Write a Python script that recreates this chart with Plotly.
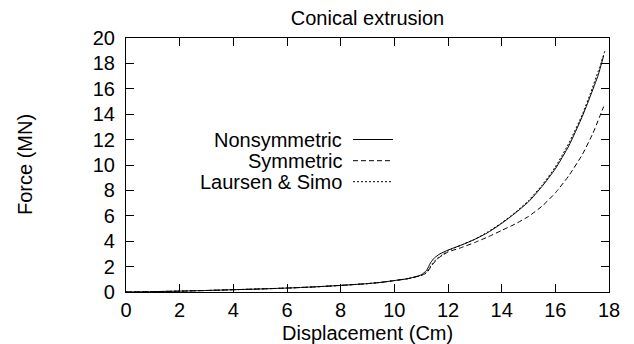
import plotly.graph_objects as go

# Data
x_non = [0, 1, 2, 3, 4, 5, 6, 7, 8, 9, 9.5, 10, 10.5, 11, 11.2, 11.35, 11.5, 11.7, 12, 12.5, 13, 13.5, 14, 14.5, 15, 15.5, 16, 16.5, 17, 17.3, 17.6, 17.8]
y_non = [0, 0.03, 0.07, 0.12, 0.18, 0.24, 0.31, 0.4, 0.52, 0.66, 0.76, 0.9, 1.05, 1.35, 1.7, 2.3, 2.7, 3.0, 3.3, 3.7, 4.15, 4.7, 5.4, 6.2, 7.1, 8.3, 9.7, 11.5, 13.8, 15.4, 17.1, 18.6]

x_sym = [0, 1, 2, 3, 4, 5, 6, 7, 8, 9, 9.5, 10, 10.5, 11, 11.2, 11.4, 11.6, 11.8, 12, 12.5, 13, 13.5, 14, 14.5, 15, 15.5, 16, 16.5, 17, 17.4, 17.8]
y_sym = [0, 0.03, 0.07, 0.12, 0.18, 0.24, 0.31, 0.4, 0.52, 0.66, 0.76, 0.9, 1.05, 1.3, 1.5, 2.1, 2.6, 2.9, 3.15, 3.5, 3.9, 4.35, 4.85, 5.35, 5.95, 6.75, 7.8, 9.15, 10.8, 12.5, 14.6]

x_ls = [0, 1, 2, 3, 4, 5, 6, 7, 8, 9, 9.5, 10, 10.5, 11, 11.2, 11.4, 11.6, 11.8, 12, 12.5, 13, 13.5, 14, 14.5, 15, 15.5, 16, 16.5, 17, 17.3, 17.6, 17.85]
y_ls = [0, 0.03, 0.07, 0.12, 0.18, 0.24, 0.31, 0.4, 0.52, 0.66, 0.76, 0.9, 1.05, 1.3, 1.55, 2.2, 2.65, 2.95, 3.25, 3.7, 4.15, 4.75, 5.45, 6.25, 7.2, 8.4, 9.85, 11.7, 13.95, 15.6, 17.4, 19.0]

series_names = ["Nonsymmetric", "Symmetric", "Laursen & Simo"]
series_dash = ["solid", "5px,3px", "2px,2px"]

x_ticks = [0, 2, 4, 6, 8, 10, 12, 14, 16, 18]
y_ticks = [0, 2, 4, 6, 8, 10, 12, 14, 16, 18, 20]

FONT = "Liberation Sans, Arial, Helvetica, sans-serif"
FS = 20

# page is rendered with an 8px body margin
OFF = 8
W, H = 634 - OFF, 344 - OFF
ML, MR, MT, MB = 126 - OFF, 25, 38 - OFF, 52
PW, PH = W - ML - MR, H - MT - MB

fig = go.Figure()
for xs, ys, name, dash in zip([x_non, x_sym, x_ls], [y_non, y_sym, y_ls], series_names, series_dash):
    fig.add_trace(go.Scatter(x=xs, y=ys, mode="lines", name=name,
                             line=dict(color="black", width=1, dash=dash,
                                       shape="spline", smoothing=0.5),
                             showlegend=False))

# helpers: page pixel -> paper coordinates
def px2paper_x(px):
    return (px - OFF - ML) / PW

def py2paper_y(py):
    return (H - MB - (py - OFF)) / PH

# gnuplot-style key: right-aligned text, sample line to the right
key_rows = [139.5, 160.7, 181.7]
for name, dash, ry in zip(series_names, series_dash, key_rows):
    fig.add_annotation(x=px2paper_x(344), y=py2paper_y(ry), xref="paper", yref="paper",
                       text=name, showarrow=False, xanchor="right", yanchor="middle",
                       font=dict(family=FONT, size=FS, color="black"))
    fig.add_shape(type="line", xref="paper", yref="paper",
                  x0=px2paper_x(353), x1=px2paper_x(393),
                  y0=py2paper_y(ry), y1=py2paper_y(ry),
                  line=dict(color="black", width=1, dash=dash))

# axis titles as annotations for exact placement
fig.add_annotation(x=0.5, y=py2paper_y(333), xref="paper", yref="paper",
                   text="Displacement (Cm)", showarrow=False, xanchor="center", yanchor="middle",
                   font=dict(family=FONT, size=FS, color="black"))
fig.add_annotation(x=px2paper_x(25), y=0.5, xref="paper", yref="paper",
                   text="Force (MN)", showarrow=False, xanchor="center", yanchor="middle",
                   textangle=-90, font=dict(family=FONT, size=FS, color="black"))

axis_common = dict(showgrid=False, zeroline=False, showline=True, linecolor="black",
                   linewidth=1.2, mirror="ticks", ticks="inside", ticklen=8,
                   tickcolor="black", tickwidth=1.2, automargin=False,
                   tickfont=dict(family=FONT, size=FS, color="black"))

fig.update_xaxes(range=[0, 18], tickvals=x_ticks, ticktext=[str(v) for v in x_ticks],
                 **axis_common)
fig.update_yaxes(range=[0, 20], tickvals=y_ticks, ticktext=[str(v) for v in y_ticks],
                 ticklabelstandoff=6, **axis_common)

fig.update_layout(
    width=W, height=H,
    margin=dict(l=ML, r=MR, t=MT, b=MB, pad=0, autoexpand=False),
    paper_bgcolor="white", plot_bgcolor="white",
    title=dict(text="Conical extrusion", x=0.5, xref="paper", y=1 - (18 - OFF) / H, yref="container",
               xanchor="center", yanchor="middle", automargin=False,
               font=dict(family=FONT, size=FS, color="black")),
    showlegend=False,
)

fig.write_html("out.html")
